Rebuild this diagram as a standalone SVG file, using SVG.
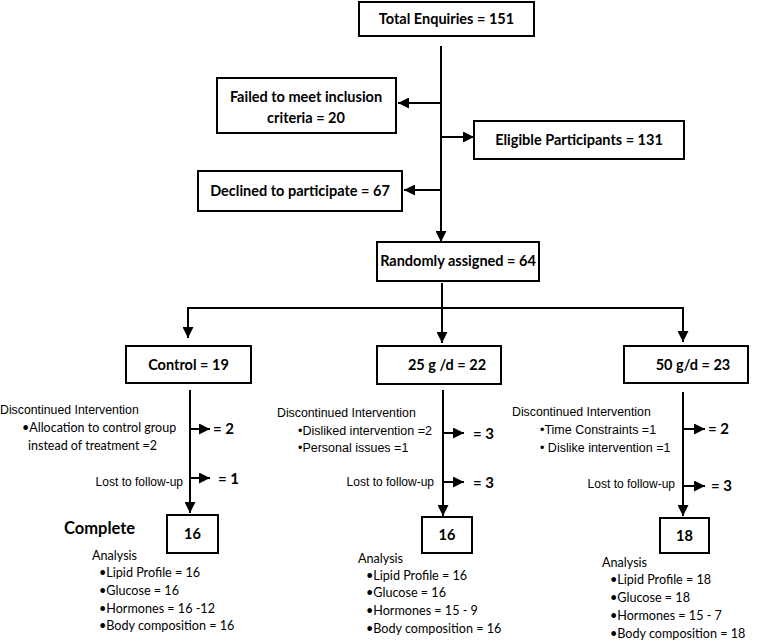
<svg xmlns="http://www.w3.org/2000/svg" width="757" height="643" viewBox="0 0 757 643">
<defs>
<marker id="ah" viewBox="0 0 10 10" refX="10" refY="5" markerWidth="12" markerHeight="11" markerUnits="userSpaceOnUse" orient="auto">
<path d="M0,0 L10,5 L0,10 z" fill="#000"/>
</marker>
</defs>
<style>
.box{fill:#fff;stroke:#000;stroke-width:2}
.ln{fill:none;stroke:#000;stroke-width:2}
.ar{fill:none;stroke:#000;stroke-width:2;marker-end:url(#ah)}
.bt{font-family:Lato,"Liberation Sans",sans-serif;font-weight:bold;font-size:14.5px;fill:#000;text-anchor:middle}
.eq{font-family:Lato,"Liberation Sans",sans-serif;font-weight:bold;font-size:15px;fill:#000}
.ar12{font-family:"Liberation Sans",Arial,sans-serif;font-size:12.3px;fill:#000}
.cal{font-family:Lato,"Liberation Sans",sans-serif;font-size:12.5px;fill:#000}
.an{font-family:Lato,"Liberation Sans",sans-serif;font-size:12.6px;fill:#000}
</style>
<g id="connectors">
<line class="ln" x1="441" y1="46" x2="441" y2="230"/>
<line class="ar" x1="441" y1="229" x2="441" y2="242"/>
<line class="ar" x1="441" y1="103" x2="398" y2="103"/>
<line class="ar" x1="441" y1="137" x2="474" y2="137"/>
<line class="ar" x1="441" y1="190" x2="404" y2="190"/>
<line class="ar" x1="442" y1="283" x2="442" y2="343"/>
<path class="ln" d="M188,308 L683,308"/>
<line class="ar" x1="188" y1="307" x2="188" y2="338"/>
<line class="ar" x1="683" y1="307" x2="683" y2="342"/>
<line class="ar" x1="190" y1="390" x2="190" y2="513"/>
<line class="ar" x1="190" y1="429" x2="210" y2="429"/>
<line class="ar" x1="190" y1="478" x2="210" y2="478"/>
<line class="ar" x1="443" y1="390" x2="443" y2="516"/>
<line class="ar" x1="443" y1="433" x2="464" y2="433"/>
<line class="ar" x1="443" y1="482" x2="464" y2="482"/>
<line class="ar" x1="683" y1="392" x2="683" y2="516"/>
<line class="ar" x1="683" y1="429" x2="705" y2="429"/>
<line class="ar" x1="683" y1="486" x2="705" y2="486"/>
</g>
<g id="total">
<rect class="box" x="359" y="2" width="175" height="34"/>
<text class="bt" x="446.5" y="24">Total Enquiries = 151</text>
</g>
<g id="failed">
<rect class="box" x="217" y="78" width="179" height="55"/>
<text class="bt" x="306" y="102">Failed to meet inclusion</text>
<text class="bt" x="306" y="123">criteria = 20</text>
</g>
<g id="eligible">
<rect class="box" x="474" y="121" width="210" height="38"/>
<text class="bt" x="579" y="145">Eligible Participants = 131</text>
</g>
<g id="declined">
<rect class="box" x="198" y="171" width="204" height="40"/>
<text class="bt" x="300" y="196">Declined to participate = 67</text>
</g>
<g id="randomly">
<rect class="box" x="377" y="242" width="162" height="39"/>
<text class="bt" x="458" y="266">Randomly assigned = 64</text>
</g>
<g id="control">
<rect class="box" x="126" y="346" width="125" height="37"/>
<text class="bt" x="188.5" y="370">Control = 19</text>
</g>
<g id="g25">
<rect class="box" x="377" y="346" width="124" height="38"/>
<text class="bt" x="447" y="370">25 g /d = 22</text>
</g>
<g id="g50">
<rect class="box" x="624" y="346" width="124" height="37"/>
<text class="bt" x="693" y="370">50 g/d = 23</text>
</g>
<g id="control-drop">
<text class="ar12" x="0" y="414">Discontinued Intervention</text>
<text class="cal" x="22" y="432">•Allocation to control group</text>
<text class="cal" x="28" y="450">instead of treatment =2</text>
<text class="eq" x="213" y="434">= 2</text>
<text class="ar12" x="183" y="486" text-anchor="end" style="font-size:12px">Lost to follow-up</text>
<text class="eq" x="218" y="484">= 1</text>
</g>
<g id="g25-drop">
<text class="ar12" x="277" y="417">Discontinued Intervention</text>
<text class="ar12" x="298" y="435" style="font-size:12.5px">•Disliked intervention =2</text>
<text class="ar12" x="298" y="452" style="font-size:12.5px">•Personal issues =1</text>
<text class="eq" x="473" y="439">= 3</text>
<text class="ar12" x="434" y="486" text-anchor="end" style="font-size:12px">Lost to follow-up</text>
<text class="eq" x="473" y="488">= 3</text>
</g>
<g id="g50-drop">
<text class="ar12" x="512" y="416">Discontinued Intervention</text>
<text class="ar12" x="540" y="434" style="font-size:12.5px">•Time Constraints =1</text>
<text class="ar12" x="540" y="452" style="font-size:12.5px">• Dislike intervention =1</text>
<text class="eq" x="708" y="434">= 2</text>
<text class="ar12" x="675" y="488" text-anchor="end" style="font-size:12px">Lost to follow-up</text>
<text class="eq" x="711" y="491">= 3</text>
</g>
<g id="control-complete">
<text x="64" y="534" style="font-family:Lato,'Liberation Sans',sans-serif;font-weight:bold;font-size:16.5px">Complete</text>
<rect class="box" x="167" y="515" width="51" height="38"/>
<text class="bt" x="192.5" y="539">16</text>
<text class="an" x="92" y="560">Analysis</text>
<text class="an" x="99" y="577">•Lipid Profile = 16</text>
<text class="an" x="99" y="595">•Glucose = 16</text>
<text class="an" x="99" y="613">•Hormones  = 16 -12</text>
<text class="an" x="99" y="630">•Body composition = 16</text>
</g>
<g id="g25-complete">
<rect class="box" x="422" y="517" width="50" height="36"/>
<text class="bt" x="447" y="540">16</text>
<text class="an" x="358" y="563">Analysis</text>
<text class="an" x="366" y="580">•Lipid Profile = 16</text>
<text class="an" x="366" y="597">•Glucose = 16</text>
<text class="an" x="366" y="615">•Hormones  = 15 - 9</text>
<text class="an" x="366" y="633">•Body composition = 16</text>
</g>
<g id="g50-complete">
<rect class="box" x="660" y="518" width="49" height="35"/>
<text class="bt" x="684.5" y="541">18</text>
<text class="an" x="602" y="567">Analysis</text>
<text class="an" x="610" y="584">•Lipid Profile = 18</text>
<text class="an" x="610" y="602">•Glucose = 18</text>
<text class="an" x="610" y="620">•Hormones  = 15 - 7</text>
<text class="an" x="610" y="638">•Body composition = 18</text>
</g>
</svg>
